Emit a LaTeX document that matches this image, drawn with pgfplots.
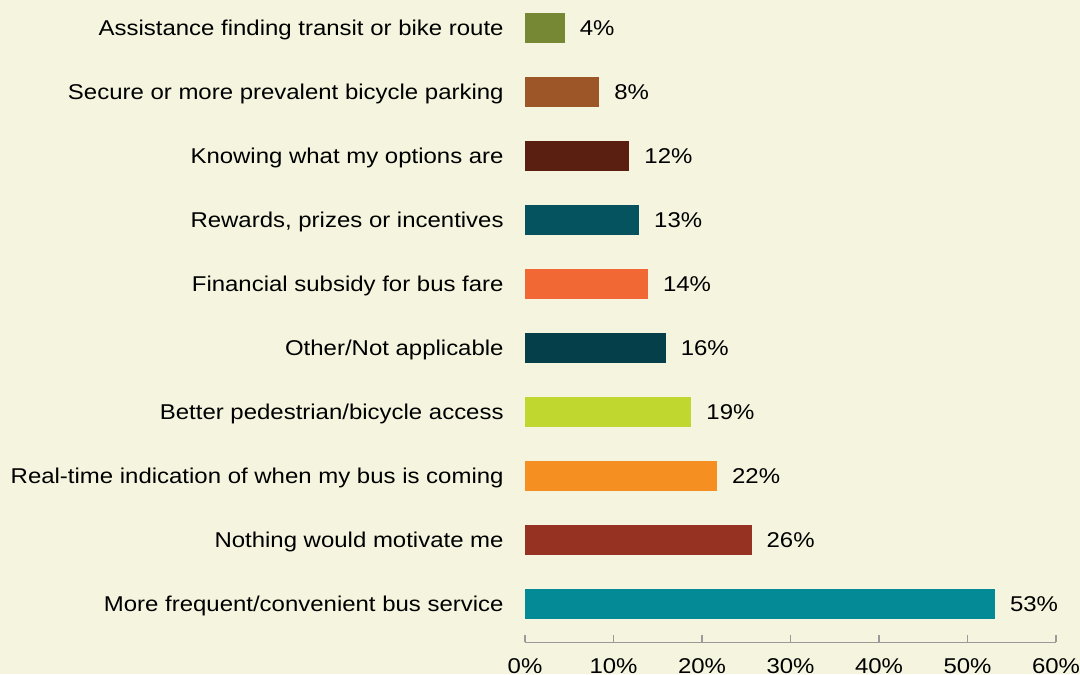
\documentclass[border=0pt]{standalone}
\usepackage{pgfplots}
\pgfplotsset{compat=1.18}
\usepackage{fontspec}
\setmainfont{Liberation Sans}[FakeStretch=1.12]
\definecolor{bg}{HTML}{F5F4DE}
\definecolor{c1}{HTML}{778834}
\definecolor{c2}{HTML}{9C5627}
\definecolor{c3}{HTML}{5A1F10}
\definecolor{c4}{HTML}{05535E}
\definecolor{c5}{HTML}{F26835}
\definecolor{c6}{HTML}{05404A}
\definecolor{c7}{HTML}{C0D72F}
\definecolor{c8}{HTML}{F58F21}
\definecolor{c9}{HTML}{963222}
\definecolor{c10}{HTML}{048A97}
\definecolor{axgray}{HTML}{9A9A9A}
\begin{document}
\begin{tikzpicture}
\fill[bg] (-262.5pt,-15.8pt) rectangle (277.5pt,321.2pt);
\begin{axis}[
  at={(0,0)}, anchor=south west,
  scale only axis,
  width=265.5pt, height=323.2pt,
  xmin=0, xmax=60, ymin=-0.6, ymax=9.5,
  xbar, bar width=15pt, bar shift=0pt,
  axis y line=none,
  axis x line*=bottom,
  x axis line style={axgray, line width=0.8pt, -},
  xtick={0,10,...,60},
  xticklabel={\pgfmathprintnumber{\tick}\%},
  xtick align=inside,
  major tick length=3.5pt,
  xtick style={axgray, line width=0.8pt},
  xticklabel style={font=\fontsize{10.7}{12}\selectfont, yshift=-4.5pt},
  /pgf/number format/assume math mode=true,
  point meta=explicit symbolic,
  nodes near coords={\pgfplotspointmeta\%},
  nodes near coords style={anchor=west, xshift=4pt, font=\fontsize{10.7}{12}\selectfont, text=black},
  clip=false,
]
\addplot[draw=none, fill=c10] coordinates {(53.1,0) [53]};
\addplot[draw=none, fill=c9] coordinates {(25.6,1) [26]};
\addplot[draw=none, fill=c8] coordinates {(21.7,2) [22]};
\addplot[draw=none, fill=c7] coordinates {(18.8,3) [19]};
\addplot[draw=none, fill=c6] coordinates {(15.9,4) [16]};
\addplot[draw=none, fill=c5] coordinates {(13.9,5) [14]};
\addplot[draw=none, fill=c4] coordinates {(12.9,6) [13]};
\addplot[draw=none, fill=c3] coordinates {(11.8,7) [12]};
\addplot[draw=none, fill=c2] coordinates {(8.4,8) [8]};
\addplot[draw=none, fill=c1] coordinates {(4.5,9) [4]};
\end{axis}
\begin{scope}[font=\fontsize{10.7}{12}\selectfont]
\foreach \lab [count=\i from 0] in {More frequent/convenient bus service, Nothing would motivate me, Real-time indication of when my bus is coming, Better pedestrian/bicycle access, Other/Not applicable, Financial subsidy for bus fare, {Rewards, prizes or incentives}, Knowing what my options are, Secure or more prevalent bicycle parking, Assistance finding transit or bike route}
  \node[anchor=east, inner sep=0pt] at (-10.5pt, {(0.6+\i)*323.2pt/10.1-1pt}) {\lab};
\end{scope}
\pgfresetboundingbox
\path[use as bounding box] (-262.5pt,-15.8pt) rectangle (277.5pt,321.2pt);
\end{tikzpicture}
\end{document}
